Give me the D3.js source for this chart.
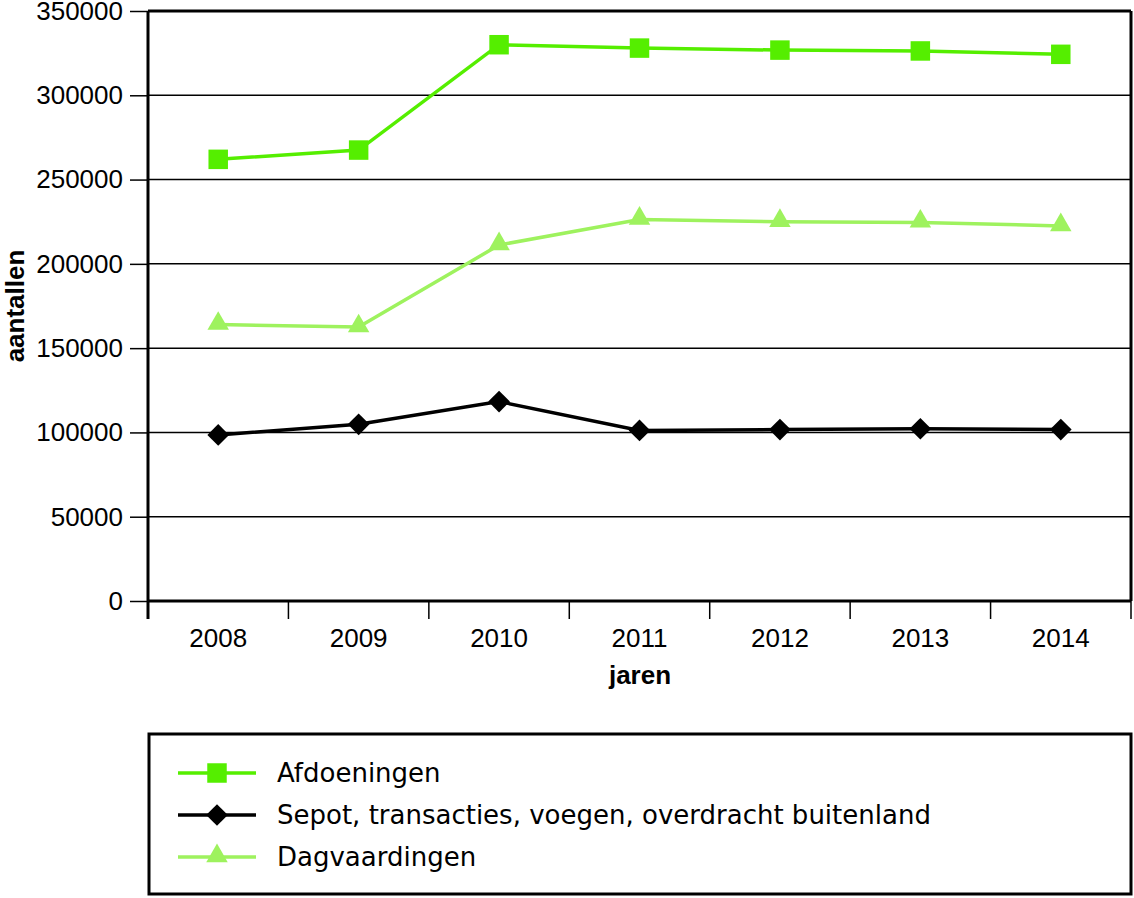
<!DOCTYPE html>
<html><head><meta charset="utf-8">
<script src="https://cdn.jsdelivr.net/npm/d3@7"></script>
<style>body{margin:0;background:#fff}svg{display:block}text{fill:#000}
.num{font-family:"Liberation Sans",Arial,sans-serif;font-size:26px}
.lab{font-family:"DejaVu Sans",Verdana,sans-serif;font-size:26px}
.ttl{font-family:"Liberation Sans",Arial,sans-serif;font-size:26px;font-weight:bold}</style>
</head><body>
<script>
const years = ["2008","2009","2010","2011","2012","2013","2014"];
const afdoeningen = [262000, 267500, 330000, 328000, 326800, 326300, 324300];
const sepot = [98500, 104800, 118300, 101200, 101700, 102200, 101700];
const dagvaardingen = [164000, 162500, 211200, 226300, 225000, 224600, 222500];
const yTicks = [0, 50000, 100000, 150000, 200000, 250000, 300000, 350000];
const seriesNames = ["Afdoeningen", "Sepot, transacties, voegen, overdracht buitenland", "Dagvaardingen"];

const W = 1134, H = 898;
const svg = d3.select("body").append("svg").attr("width", W).attr("height", H);
const L = 148, R = 1131, T = 11, B = 601;
const x = d3.scaleBand().domain(years).range([L, R]);
const y = d3.scaleLinear().domain([0, 350000]).range([B, T]);

// gridlines
svg.append("g").selectAll("line").data(yTicks.slice(1)).join("line")
  .attr("x1", L).attr("x2", R).attr("y1", d => y(d)).attr("y2", d => y(d))
  .attr("stroke", "#000").attr("stroke-width", 1.5);

// y axis
const ya = svg.append("g").attr("transform", `translate(${L},0)`)
  .call(d3.axisLeft(y).tickValues(yTicks).tickSize(18).tickPadding(7).tickFormat(d3.format("d")));
ya.select(".domain").remove();
ya.selectAll(".tick line").attr("stroke-width", 1.5);
ya.selectAll("text").attr("class", "num");
ya.attr("font-size", null).attr("font-family", null);

// x axis ticks at band boundaries
const bounds = years.map(d => x(d)).concat([R]);
svg.append("g").selectAll("line").data(bounds).join("line")
  .attr("x1", d => d).attr("x2", d => d).attr("y1", B).attr("y2", B + 18)
  .attr("stroke", "#000").attr("stroke-width", 1.5);
svg.append("g").selectAll("text").data(years).join("text")
  .attr("class", "num")
  .attr("x", d => x(d) + x.bandwidth() / 2).attr("y", 647)
  .attr("text-anchor", "middle").text(d => d);

// frame
svg.append("line").attr("x1", L).attr("x2", L).attr("y1", T).attr("y2", B + 18).attr("stroke", "#000").attr("stroke-width", 3);
svg.append("line").attr("x1", L).attr("x2", R).attr("y1", B).attr("y2", B).attr("stroke", "#000").attr("stroke-width", 3);
svg.append("line").attr("x1", L).attr("x2", R).attr("y1", T).attr("y2", T).attr("stroke", "#000").attr("stroke-width", 3);
svg.append("line").attr("x1", R).attr("x2", R).attr("y1", T).attr("y2", B).attr("stroke", "#000").attr("stroke-width", 3);

// titles
svg.append("text").attr("class", "ttl").attr("x", 640).attr("y", 684).attr("text-anchor", "middle").text("jaren");
svg.append("text").attr("class", "ttl").attr("transform", "translate(24,306) rotate(-90)")
  .attr("text-anchor", "middle").text("aantallen");

const colors = ["#55ee00", "#000000", "#9ef25e"];
const symbols = [d3.symbolSquare, d3.symbolSquare, d3.symbolTriangle];
const sizes = [380, 235, 200];
const rot = [0, 45, 0];
const dy = [0, 0, -1];
const data = [afdoeningen, sepot, dagvaardingen];
const cx = d => x(d) + x.bandwidth() / 2;
const line = d3.line().x((d, i) => cx(years[i])).y(d => y(d));

[2, 1, 0].forEach(k => {
  svg.append("path").datum(data[k]).attr("d", line).attr("fill", "none")
    .attr("stroke", colors[k]).attr("stroke-width", 3.5);
  svg.append("g").selectAll("path").data(data[k]).join("path")
    .attr("transform", (d, i) => `translate(${cx(years[i])},${y(d) + dy[k]}) rotate(${rot[k]})`)
    .attr("d", d3.symbol().type(symbols[k]).size(sizes[k]))
    .attr("fill", colors[k]);
});

// legend
svg.append("rect").attr("x", 149).attr("y", 734).attr("width", 982).attr("height", 160)
  .attr("fill", "none").attr("stroke", "#000").attr("stroke-width", 3);
const ly = [773, 815, 857];
seriesNames.forEach((n, k) => {
  const g = svg.append("g");
  g.append("line").attr("x1", 178).attr("x2", 256).attr("y1", ly[k]).attr("y2", ly[k])
    .attr("stroke", colors[k]).attr("stroke-width", 3.5);
  g.append("path").attr("transform", `translate(217,${ly[k] + dy[k]}) rotate(${rot[k]})`)
    .attr("d", d3.symbol().type(symbols[k]).size(sizes[k])).attr("fill", colors[k]);
  g.append("text").attr("class", "lab").attr("x", 277).attr("y", ly[k] + 9).text(n);
});
</script>
</body></html>
